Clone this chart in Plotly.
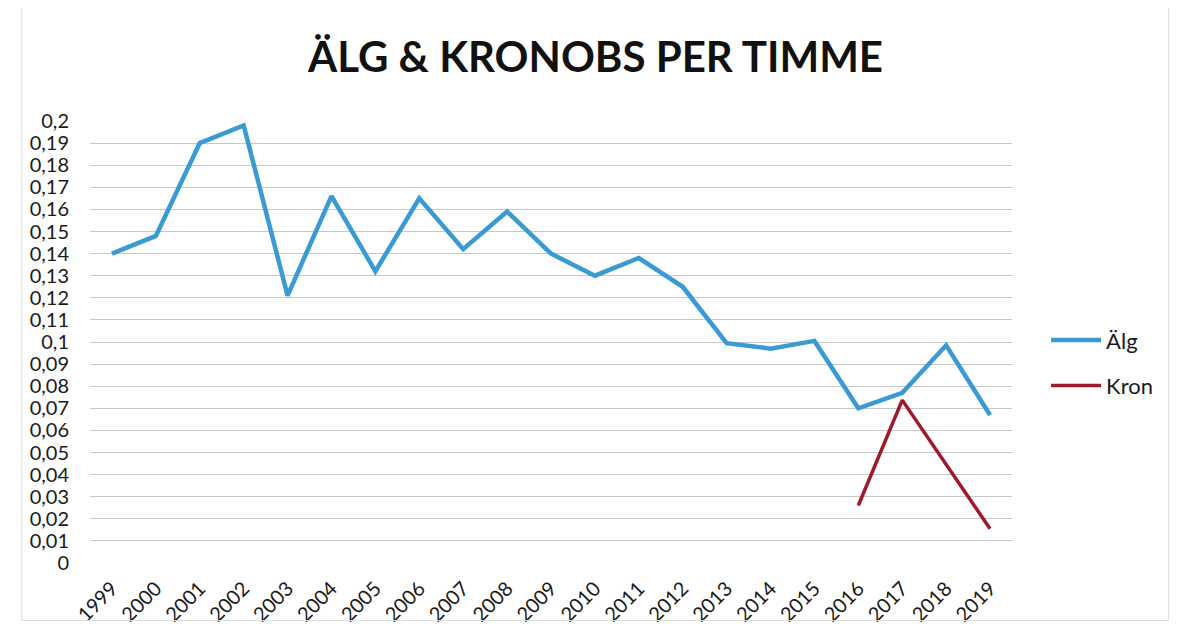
import plotly.graph_objects as go

years = [str(y) for y in range(1999, 2020)]
alg = [0.140, 0.148, 0.190, 0.198, 0.121, 0.166, 0.132, 0.165, 0.142, 0.159,
       0.140, 0.130, 0.138, 0.125, 0.0995, 0.097, 0.1005, 0.070, 0.077, 0.0985, 0.067]
kron = [None] * 17 + [0.026, 0.0737, None, 0.0155]

ytick_vals = [i / 100 for i in range(0, 21)]
ytick_text = ["0"] + ["0," + f"{i:02d}".rstrip("0") for i in range(1, 21)]

fig = go.Figure()
fig.add_trace(go.Scatter(x=years, y=alg, name="Älg", mode="lines", legendgroup="a",
                         line=dict(color="#3A9AD3", width=4.5)))
fig.add_trace(go.Scatter(x=years, y=kron, name="Kron", mode="lines", connectgaps=True,
                         legendgroup="k", line=dict(color="#9E1A2B", width=3.5)))

fig.update_layout(
    width=1175, height=636,
    paper_bgcolor="white", plot_bgcolor="white",
    margin=dict(l=82, r=171, t=113, b=81),
    font=dict(family="Lato, Open Sans, sans-serif", color="#1a1a1a", size=20),
    title=dict(text="<b>ÄLG &amp; KRONOBS PER TIMME</b>", x=0.5, xanchor="center",
               xref="container", y=0.923, yref="container", yanchor="middle",
               font=dict(size=42, family="Lato, Open Sans, sans-serif", color="#111")),
    legend=dict(x=1.037, y=0.452, xanchor="left", yanchor="middle",
                font=dict(size=22), tracegroupgap=14, itemwidth=50),
    shapes=[dict(type="rect", xref="paper", yref="paper", x0=-0.074, x1=1.17,
                 y0=-0.13, y1=1.26, line=dict(color="#dddddd", width=1))],
)
fig.update_xaxes(type="category", tickangle=-45, showgrid=False, showline=False,
                 ticks="", tickfont=dict(size=20), range=[-0.5, 20.5],
                 automargin=False, ticklabelstandoff=9)
fig.update_yaxes(range=[0, 0.2], tickvals=ytick_vals, ticktext=ytick_text,
                 showgrid=True, gridcolor="#c8c8c8", gridwidth=1, zeroline=False,
                 showline=False, ticks="", tickfont=dict(size=20), automargin=False,
                 ticklabelstandoff=20)

fig.write_html("out.html")
